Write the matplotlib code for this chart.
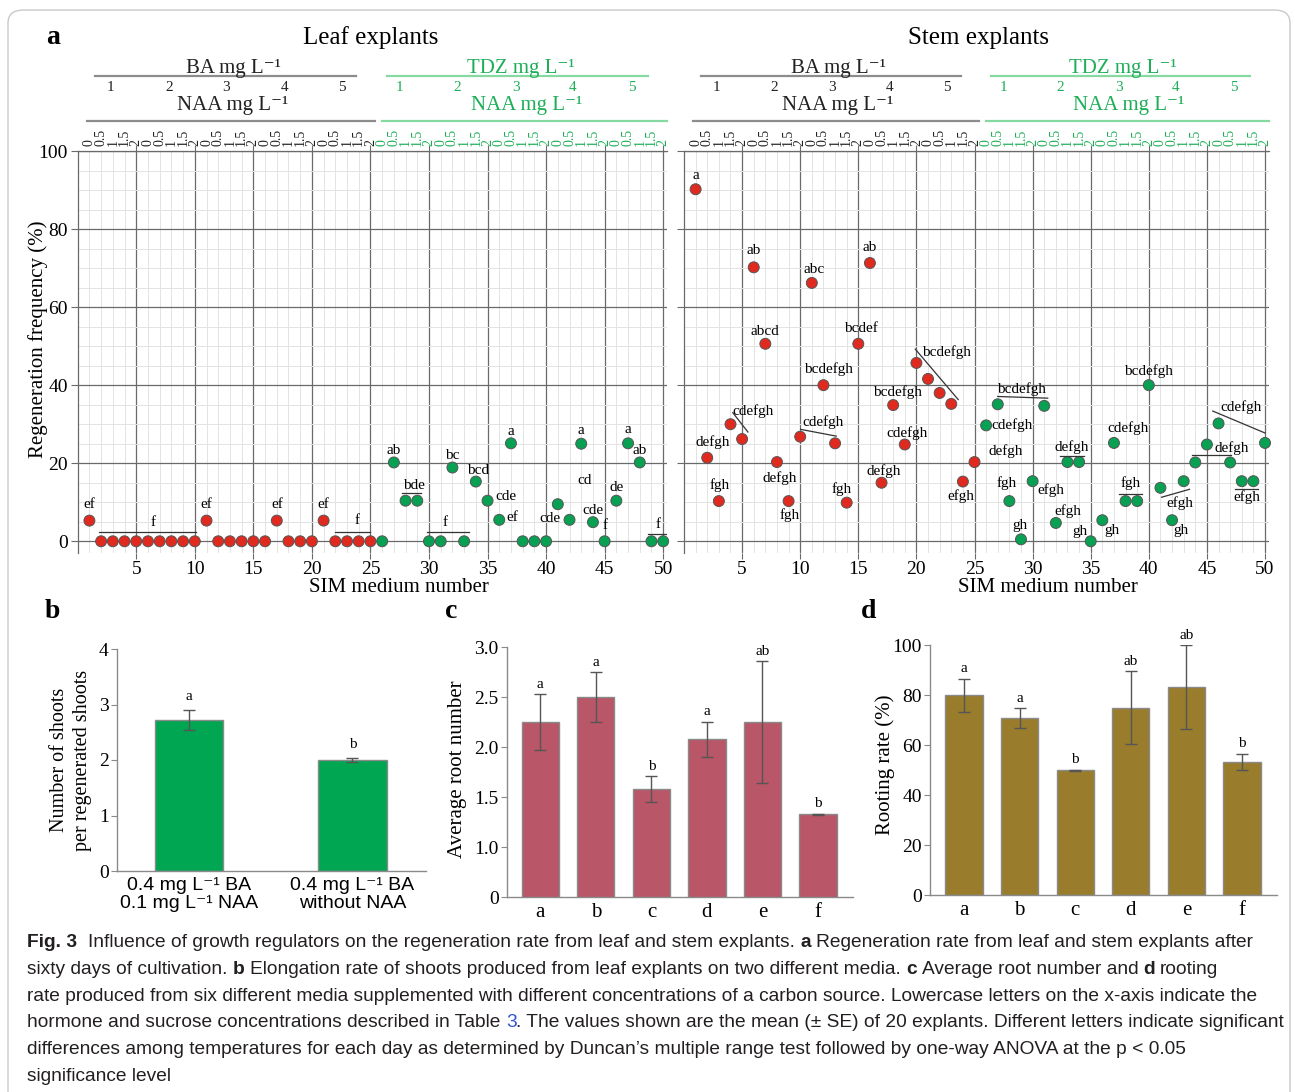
import numpy as np
import matplotlib.pyplot as plt
import matplotlib.transforms as mtransforms
from matplotlib.patches import FancyBboxPatch

SERIF = ['Liberation Serif', 'DejaVu Serif']
SANS = ['Liberation Sans', 'DejaVu Sans']
plt.rcParams['font.family'] = SERIF

# ---------------- data ----------------
media = np.arange(1, 51)
naa_levels = ['0', '0.5', '1', '1.5', '2']
cyto_levels = ['1', '2', '3', '4', '5']

leaf_freq = [5.3, 0, 0, 0, 0, 0, 0, 0, 0, 0,
             5.3, 0, 0, 0, 0, 0, 5.3, 0, 0, 0,
             5.3, 0, 0, 0, 0,
             0, 20.2, 10.4, 10.4, 0, 0, 18.9, 0, 15.3, 10.4,
             5.5, 25.1, 0, 0, 0, 9.5, 5.5, 25.0, 4.9, 0,
             10.4, 25.1, 20.2, 0, 0]

stem_freq = [90.2, 21.4, 10.3, 30.0, 26.2, 70.2, 50.6, 20.3, 10.3, 26.8,
             66.2, 40.0, 25.1, 9.9, 50.6, 71.3, 15.0, 34.9, 24.8, 45.7,
             41.6, 38.0, 35.2, 15.3, 20.3,
             29.7, 35.1, 10.3, 0.5, 15.4, 34.7, 4.7, 20.3, 20.3, 0,
             5.4, 25.2, 10.3, 10.3, 40.0, 13.7, 5.4, 15.4, 20.2, 24.8,
             30.2, 20.2, 15.4, 15.4, 25.2]

# Duncan letters: (medium, letters, dx, dy) relative to the point
leaf_letters = [(1, 'ef', 0, 4.2), (11, 'ef', 0, 4.2), (17, 'ef', 0, 4.2), (21, 'ef', 0, 4.2),
                (27, 'ab', 0, 3.1), (28, 'bde', 0.7, 4.0), (32, 'bc', 0, 3.0),
                (34, 'bcd', 0.2, 2.9), (35, 'cde', 1.6, 1.1), (36, 'ef', 1.1, 0.5),
                (37, 'a', 0, 3.0), (41, 'cd', 2.3, 6.2), (42, 'cde', -1.7, 0.4),
                (43, 'a', 0, 3.3), (44, 'cde', 0, 2.9), (45, 'f', 0, 4.0),
                (46, 'de', 0, 3.4), (47, 'a', 0, 3.6), (48, 'ab', 0, 3.1),
                (2, 'f', 4.4, 4.9), (22, 'f', 1.85, 5.4), (30, 'f', 1.4, 4.9), (49, 'f', 0.6, 4.4)]
# points sharing a letter group: (first, last, extend left, extend right, dy)
leaf_groups = [(2, 10, 0.15, 0.1, 2.3), (22, 25, 0.0, 0.0, 2.5), (28, 29, 0.3, 0.3, 2.0),
               (30, 33, 0.2, 0.4, 2.5), (49, 50, 0.3, 0.4, 1.9)]

stem_letters = [(1, 'a', 0, 3.6), (6, 'ab', 0, 4.3), (11, 'abc', 0.2, 3.5), (16, 'ab', 0, 4.1),
                (7, 'abcd', 0, 3.2), (15, 'bcdef', 0.2, 3.8), (20, 'bcdefgh', 2.6, 2.9),
                (12, 'bcdefgh', 0.4, 4.0), (18, 'bcdefgh', 0.4, 3.4), (2, 'defgh', 0.5, 4.0),
                (3, 'fgh', 0.1, 4.2), (4, 'cdefgh', 1.9, 3.4), (8, 'defgh', 0.2, -4.1),
                (9, 'fgh', 0.05, -3.5), (10, 'cdefgh', 2.0, 3.7), (14, 'fgh', -0.4, 3.5),
                (19, 'cdefgh', 0.2, 2.9), (17, 'defgh', 0.2, 2.9), (24, 'efgh', -0.2, -3.8),
                (26, 'cdefgh', 2.2, 0), (27, 'bcdefgh', 2.0, 3.9), (25, 'defgh', 2.7, 2.8),
                (28, 'fgh', -0.2, 4.7), (30, 'efgh', 1.6, -2.3), (29, 'gh', -0.1, 3.6),
                (32, 'efgh', 1.0, 3.1), (33, 'defgh', 0.4, 3.9), (35, 'gh', -0.9, 2.6),
                (36, 'gh', 0.8, -2.6), (37, 'cdefgh', 1.2, 3.7), (38, 'fgh', 0.4, 4.7),
                (40, 'bcdefgh', 0, 3.6), (41, 'efgh', 1.7, -3.8), (42, 'gh', 0.8, -2.6),
                (44, 'defgh', 3.1, 3.7), (46, 'cdefgh', 1.9, 4.2), (48, 'efgh', 0.4, -4.0)]
stem_groups = [(4, 5, -0.2, 0.5, 3.7), (10, 13, -0.05, 0.1, 1.9), (20, 23, 0.1, 0.6, 3.2),
               (27, 31, 0.0, 0.3, 2.0), (33, 34, 0.6, 0.4, 1.6), (38, 39, 0.6, 0.4, 1.9),
               (41, 43, -0.1, 0.5, -2.5), (44, 47, 0.3, 0.1, 2.0), (46, 50, 0.5, 0.0, 2.55),
               (48, 49, 0.6, 0.4, -1.9)]

shoot_media = ['0.4 mg L\u207b\u00b9 BA\n0.1 mg L\u207b\u00b9 NAA', '0.4 mg L\u207b\u00b9 BA\nwithout NAA']
shoot_mean = [2.72, 2.0]
shoot_se = [0.18, 0.04]
shoot_sig = ['a', 'b']

root_media = ['a', 'b', 'c', 'd', 'e', 'f']
root_mean = [2.25, 2.5, 1.58, 2.08, 2.25, 1.33]
root_se = [0.28, 0.25, 0.13, 0.175, 0.61, 0.005]
root_sig = ['a', 'a', 'b', 'a', 'ab', 'b']

rooting_rate = [80.0, 70.8, 50.0, 75.0, 83.3, 53.3]
rooting_se = [6.6, 4.0, 0.2, 14.5, 16.7, 3.3]
rooting_sig = ['a', 'a', 'b', 'ab', 'ab', 'b']

# ---------------- style ----------------
RED = '#e12a1f'
GREEN = '#08a052'
TXT_GREEN = '#1eae58'
LINE_GREEN = '#85d9a1'
HEAD_GRAY = '#8c8c8c'
GRID_DARK = '#6a6a6a'
GRID_LIGHT = '#e3e3e3'
SPINE = '#8a8a8a'

W, H = 1295, 1092
fig = plt.figure(figsize=(W / 100, H / 100), dpi=100)


def px_axes(left, top, right, bottom):
    return fig.add_axes([left / W, 1 - bottom / H, (right - left) / W, (bottom - top) / H])


def fig_text(x, y, s, **kw):
    return fig.text(x / W, 1 - y / H, s, **kw)


def explant_panel(ax, values, letters, groups, show_ylabels, xlabel_x):
    vals = np.asarray(values, dtype=float)
    ax.set_xlim(0, 50.3)
    ax.set_ylim(-3, 100)
    ax.set_xticks(np.arange(5, 51, 5))
    ax.set_xticks(media, minor=True)
    ax.set_yticks(np.arange(0, 101, 20))
    ax.set_yticks(np.arange(0, 101, 5), minor=True)
    ax.grid(which='minor', color=GRID_LIGHT, lw=0.7)
    ax.grid(which='major', color=GRID_DARK, lw=0.9)
    ax.set_axisbelow(True)
    ax.spines['right'].set_visible(False)
    ax.spines['bottom'].set_visible(False)
    for side in ('left', 'top'):
        ax.spines[side].set_color(GRID_DARK)
        ax.spines[side].set_linewidth(0.9)
    ax.tick_params(axis='x', which='major', direction='out', length=4, color=GRID_DARK,
                   labelsize=14, pad=2, top=True)
    ax.tick_params(axis='x', which='minor', length=0)
    ax.tick_params(axis='y', which='major', direction='out', length=5, color=GRID_DARK,
                   labelsize=14, pad=2, labelleft=show_ylabels)
    ax.tick_params(axis='y', which='minor', length=0)

    colors = [RED if m <= 25 else GREEN for m in media]
    ax.scatter(media, vals, s=62, c=colors, edgecolors='#555555', linewidths=0.7,
               zorder=3, clip_on=False)

    for m, txt, dx, dy in letters:
        ax.text(m + dx, vals[m - 1] + dy, txt, ha='center', va='center', fontsize=11, zorder=4)
    for first, last, el, er, dy in groups:
        y0, y1 = vals[first - 1] + dy, vals[last - 1] + dy
        slope = (y1 - y0) / (last - first)
        ax.plot([first - el, last + er], [y0 - slope * el, y1 + slope * er],
                color='#333333', lw=0.9, zorder=4)

    # header: NAA levels and cytokinin levels above the plot
    blend = mtransforms.blended_transform_factory(ax.transData, ax.transAxes)
    for m in media:
        col = '#222222' if m <= 25 else TXT_GREEN
        ax.text(m, 1.013, naa_levels[(m - 1) % 5], rotation=90, ha='center', va='bottom',
                fontsize=10, color=col, transform=blend, clip_on=False)
    for k in range(5):
        ax.text([2.8, 7.8, 12.7, 17.7, 22.6][k], 1.157, cyto_levels[k], ha='center', va='center',
                fontsize=11, color='#222222', transform=blend)
        ax.text([27.5, 32.4, 37.4, 42.3, 47.3][k], 1.157, cyto_levels[k], ha='center', va='center',
                fontsize=11, color=TXT_GREEN, transform=blend)
    ax.plot([1.5, 23.8], [1.187, 1.187], color=HEAD_GRAY, lw=1.6, transform=blend, clip_on=False)
    ax.plot([26.4, 48.7], [1.187, 1.187], color=LINE_GREEN, lw=1.6, transform=blend, clip_on=False)
    ax.plot([0.8, 25.4], [1.075, 1.075], color=HEAD_GRAY, lw=1.6, transform=blend, clip_on=False)
    ax.plot([26.0, 50.3], [1.075, 1.075], color=LINE_GREEN, lw=1.6, transform=blend, clip_on=False)
    ax.text(13.3, 1.205, 'BA mg L\u207b\u00b9', ha='center', va='center', fontsize=15,
            color='#222222', transform=blend)
    ax.text(37.8, 1.205, 'TDZ mg L\u207b\u00b9', ha='center', va='center', fontsize=15,
            color=TXT_GREEN, transform=blend)
    ax.text(13.2, 1.112, 'NAA mg L\u207b\u00b9', ha='center', va='center', fontsize=15,
            color='#222222', transform=blend)
    ax.text(38.3, 1.112, 'NAA mg L\u207b\u00b9', ha='center', va='center', fontsize=15,
            color=TXT_GREEN, transform=blend)
    ax.text(xlabel_x, -0.087, 'SIM medium number', ha='center', va='center', fontsize=15,
            transform=ax.transAxes)


def bar_panel(ax, cats, means, errs, sig, color, ylim, yticks, yticklabels, letter_pad):
    x = np.arange(len(cats))
    ax.bar(x, means, width=0.67 if len(cats) > 2 else 0.42, color=color,
           edgecolor=SPINE, linewidth=1.0, zorder=2)
    ax.errorbar(x, means, yerr=errs, fmt='none', ecolor='#555555', elinewidth=1.0,
                capsize=4, capthick=1.0, zorder=3)
    for xi, m, e, s in zip(x, means, errs, sig):
        ax.annotate(s, (xi, m + e), xytext=(0, letter_pad), textcoords='offset points',
                    ha='center', va='bottom', fontsize=11)
    ax.set_ylim(*ylim)
    ax.set_yticks(yticks)
    ax.set_yticklabels(yticklabels)
    ax.set_xticks(x)
    ax.set_xticklabels(cats)
    for side in ('top', 'right'):
        ax.spines[side].set_visible(False)
    for side in ('left', 'bottom'):
        ax.spines[side].set_color(SPINE)
        ax.spines[side].set_linewidth(1.0)
    ax.tick_params(axis='y', direction='out', length=4, color=SPINE, labelsize=14, pad=2)
    ax.tick_params(axis='x', length=0, labelsize=15, pad=4)


# ---------------- panel a ----------------
ax_leaf = px_axes(77.7, 151, 666.7, 553)
explant_panel(ax_leaf, leaf_freq, leaf_letters, leaf_groups, True, 0.546)
fig_text(38, 339, 'Regeneration frequency (%)', rotation=90, ha='center', va='center', fontsize=15)

ax_stem = px_axes(684, 151, 1268.5, 553)
explant_panel(ax_stem, stem_freq, stem_letters, stem_groups, False, 0.623)

fig_text(371, 38, 'Leaf explants', ha='center', va='center', fontsize=18)
fig_text(979, 38, 'Stem explants', ha='center', va='center', fontsize=18)

# ---------------- panel b ----------------
ax_b = px_axes(117, 649, 426, 871)
bar_panel(ax_b, shoot_media, shoot_mean, shoot_se, shoot_sig, '#00a651',
          (0, 4), [0, 1, 2, 3, 4], ['0', '1', '2', '3', '4'], 5)
ax_b.set_xlim(-0.44, 1.45)
for lab in ax_b.get_xticklabels():
    lab.set_family(SANS)
    lab.set_fontsize(14)
    lab.set_linespacing(1.1)
fig_text(71, 760, 'Number of shoots\nper regenerated shoots', rotation=90, ha='center',
         va='center', fontsize=14.5, linespacing=1.25)

# ---------------- panel c ----------------
ax_c = px_axes(507, 647, 853, 897)
bar_panel(ax_c, root_media, root_mean, root_se, root_sig, '#b95667',
          (0.5, 3.0), [0.5, 1.0, 1.5, 2.0, 2.5, 3.0], ['0', '1.0', '1.5', '2.0', '2.5', '3.0'], 2.5)
ax_c.set_xlim(-0.6, 5.63)
fig_text(457, 769, 'Average root number', rotation=90, ha='center', va='center', fontsize=15)

# ---------------- panel d ----------------
ax_d = px_axes(930, 645, 1277, 895)
bar_panel(ax_d, root_media, rooting_rate, rooting_se, rooting_sig, '#997d2c',
          (0, 100), [0, 20, 40, 60, 80, 100], ['0', '20', '40', '60', '80', '100'], 2.5)
ax_d.set_xlim(-0.61, 5.63)
fig_text(885, 765, 'Rooting rate (%)', rotation=90, ha='center', va='center', fontsize=15)

for lbl, (x, y) in zip('abcd', [(53, 37), (52, 611), (451, 611), (869, 611)]):
    fig_text(x, y, lbl, ha='center', va='center', fontsize=20, fontweight='bold')

# ---------------- caption ----------------
CAP = dict(fontsize=13.75, family=SANS)
INK = '#231f20'
renderer = fig.canvas.get_renderer()


def seg_width(text, **kw):
    t1 = fig.text(0, 0, '|' + text + '|', **kw)
    t2 = fig.text(0, 0, '||', **kw)
    w = t1.get_window_extent(renderer).width - t2.get_window_extent(renderer).width
    t1.remove()
    t2.remove()
    return w


def caption_line(y, parts):
    x = 27.0
    for text, bold, color in parts:
        kw = dict(CAP, fontweight='bold' if bold else 'normal', color=color)
        body = text.lstrip(' ')
        lead = text[:len(text) - len(body)]
        xs = x + (seg_width(lead, **kw) if lead else 0)
        fig_text(xs, y, body, va='baseline', **kw)
        x += seg_width(text, **kw)


caption = [
    [('Fig. 3', True, INK),
     ('  Influence of growth regulators on the regeneration rate from leaf and stem explants. ', False, INK),
     ('a', True, INK), (' Regeneration rate from leaf and stem explants after', False, INK)],
    [('sixty days of cultivation. ', False, INK), ('b', True, INK),
     (' Elongation rate of shoots produced from leaf explants on two different media. ', False, INK),
     ('c', True, INK), (' Average root number and ', False, INK), ('d', True, INK),
     (' rooting', False, INK)],
    [('rate produced from six different media supplemented with different concentrations of a carbon '
      'source. Lowercase letters on the x-axis indicate the', False, INK)],
    [('hormone and sucrose concentrations described in Table ', False, INK), ('3', False, '#2f55d4'),
     ('. The values shown are the mean (\u00b1 SE) of 20 explants. Different letters indicate significant',
      False, INK)],
    [('differences among temperatures for each day as determined by Duncan\u2019s multiple range test '
      'followed by one-way ANOVA at the p < 0.05', False, INK)],
    [('significance level', False, INK)],
]
for i, parts in enumerate(caption):
    caption_line(947 + i * 26.8, parts)

frame = FancyBboxPatch((8 / W, -0.05), 1282 / W, 1.0 - 10 / H + 0.05,
                       boxstyle='round,pad=0,rounding_size=0.012', transform=fig.transFigure,
                       fill=False, edgecolor='#c9c9c9', linewidth=1.0)
fig.patches.append(frame)

fig.savefig('out.png', dpi=100)
